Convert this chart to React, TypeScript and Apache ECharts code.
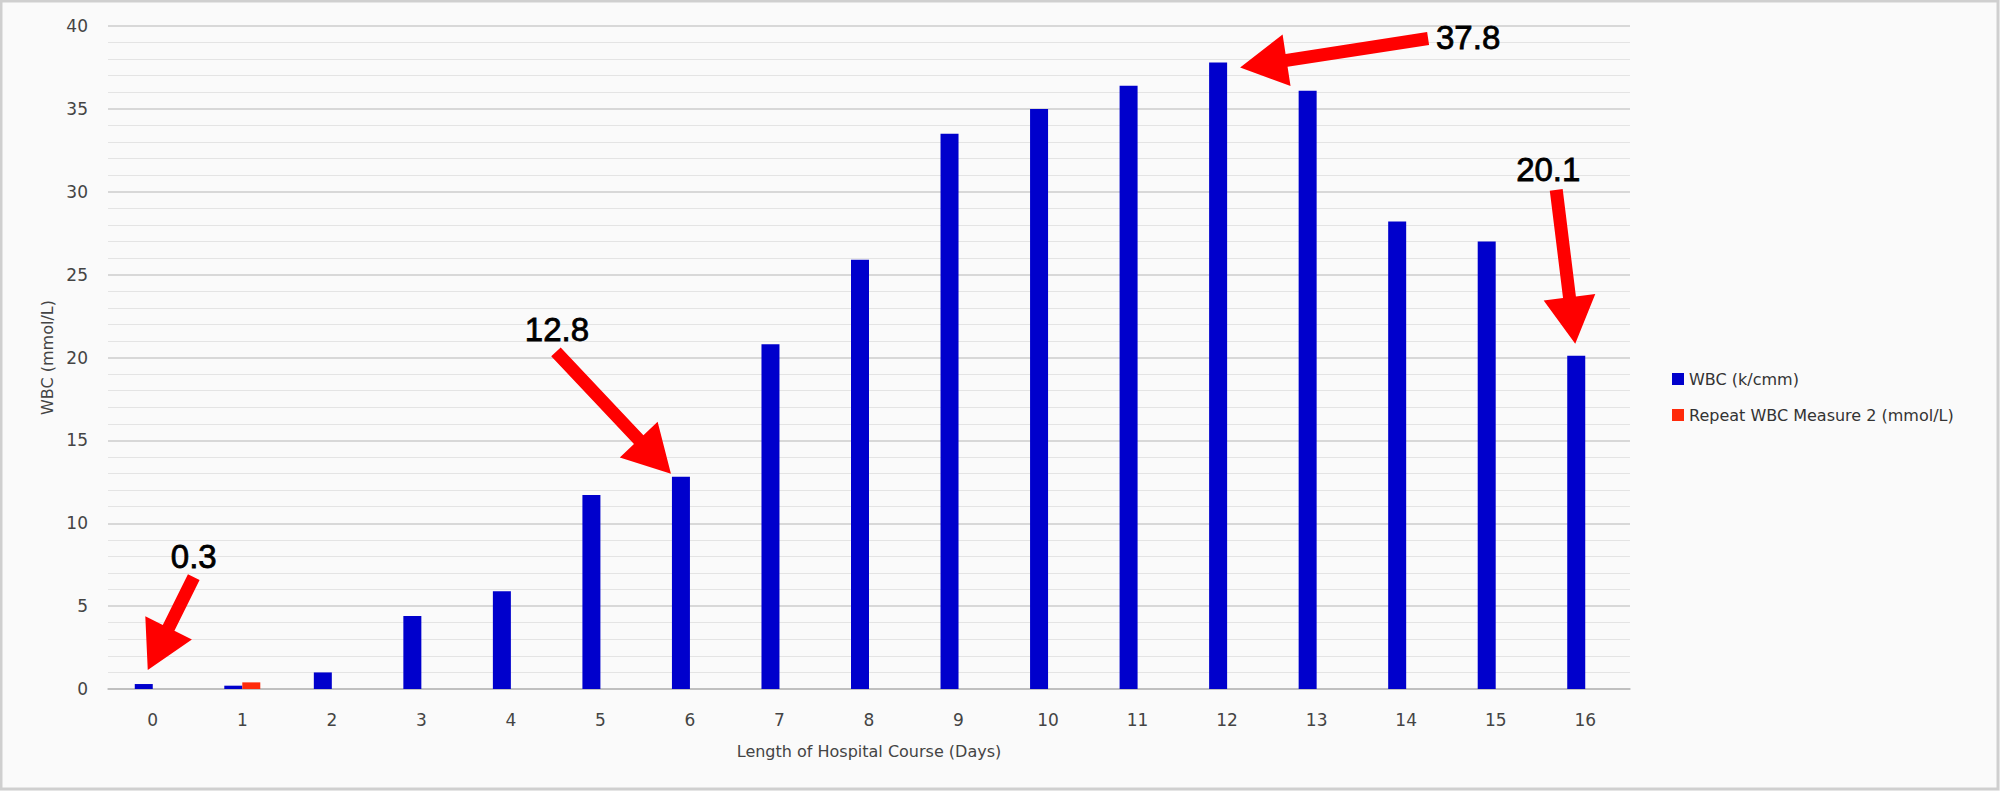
import React, { useEffect, useRef } from "react";
import * as echarts from "echarts";

const days = ["0", "1", "2", "3", "4", "5", "6", "7", "8", "9", "10", "11", "12", "13", "14", "15", "16"];
const wbc = [0.3, 0.2, 1.0, 4.4, 5.9, 11.7, 12.8, 20.8, 25.9, 33.5, 35.0, 36.4, 37.8, 36.1, 28.2, 27.0, 20.1];
const repeatWbc = [null, 0.4, null, null, null, null, null, null, null, null, null, null, null, null, null, null, null];
const seriesNames = ["WBC (k/cmm)", "Repeat WBC Measure 2 (mmol/L)"];
const xAxisTitle = "Length of Hospital Course (Days)";
const yAxisTitle = "WBC (mmol/L)";
const yTicks = { min: 0, max: 40, interval: 5 };

// annotated points (category index of the WBC series)
const annotatedDays = [0, 6, 12, 16];
// styling offsets relative to the top-centre of the annotated bar (pixels)
const arrowTipOffsets = [[4, -14], [-10, -3], [22, 5], [-1, -12]];
const arrowTailOffsets = [[50, -107], [-125, -125], [210, -24], [-20, -166]];
const labelOffsets = [[50, -128], [-124, -147], [250, -25], [-28, -186]];

const BAR_W = 18;
const FONT = "'DejaVu Sans', sans-serif";

function arrowPoints(tail: number[], tip: number[]) {
  const dx = tip[0] - tail[0];
  const dy = tip[1] - tail[1];
  const len = Math.sqrt(dx * dx + dy * dy);
  const ux = dx / len, uy = dy / len;
  const nx = -uy, ny = ux;
  const H = 47, W = 26, w = 6.5;
  const bx = tip[0] - ux * H, by = tip[1] - uy * H;
  return [
    [tail[0] + nx * w, tail[1] + ny * w],
    [bx + nx * w, by + ny * w],
    [bx + nx * W, by + ny * W],
    [tip[0], tip[1]],
    [bx - nx * W, by - ny * W],
    [bx - nx * w, by - ny * w],
    [tail[0] - nx * w, tail[1] - ny * w],
  ];
}

export default function App() {
  const ref = useRef<HTMLDivElement>(null);
  useEffect(() => {
    document.body.style.margin = "0";
    const chart = echarts.init(ref.current!, null, { renderer: "svg" });
    chart.setOption({
      animation: false,
      backgroundColor: "#fafafa",
      grid: { left: 108, right: 370, top: 26, bottom: 102, containLabel: false },
      legend: {
        orient: "vertical",
        left: 1667,
        top: 366,
        itemWidth: 12,
        itemHeight: 12,
        itemGap: 20,
        icon: "rect",
        textStyle: { fontFamily: FONT, fontSize: 16, color: "#333" },
        data: seriesNames,
      },
      xAxis: {
        type: "category",
        data: days,
        name: xAxisTitle,
        nameLocation: "middle",
        nameGap: 54,
        nameTextStyle: { fontFamily: FONT, fontSize: 16, color: "#444" },
        axisTick: { show: false },
        axisLine: { lineStyle: { color: "#b8b8b8", width: 1.5 } },
        axisLabel: { fontFamily: FONT, fontSize: 17, color: "#444", margin: 22 },
      },
      yAxis: {
        type: "value",
        min: yTicks.min,
        max: yTicks.max,
        interval: yTicks.interval,
        name: yAxisTitle,
        nameLocation: "middle",
        nameGap: 52,
        nameTextStyle: { fontFamily: FONT, fontSize: 16, color: "#444" },
        axisLine: { show: false },
        axisTick: { show: false },
        axisLabel: { fontFamily: FONT, fontSize: 17, color: "#444", margin: 20 },
        splitLine: { lineStyle: { color: "#cdcdcd", width: 1.5 } },
        minorTick: { show: false, splitNumber: 5 },
        minorSplitLine: { show: true, lineStyle: { color: "#e4e4e4", width: 1.2 } },
      },
      series: [
        {
          name: seriesNames[0],
          type: "bar",
          data: wbc,
          barWidth: BAR_W,
          barGap: "0%",
          itemStyle: { color: "#0000cc" },
        },
        {
          name: seriesNames[1],
          type: "bar",
          data: repeatWbc,
          barWidth: BAR_W,
          barGap: "0%",
          itemStyle: { color: "#ff2a0a" },
        },
      ],
    });

    const elements: any[] = [
      {
        type: "rect",
        shape: { x: 1, y: 1, width: 1997, height: 788 },
        style: { fill: "none", stroke: "#cfcfcf", lineWidth: 3 },
        silent: true,
      },
    ];
    annotatedDays.forEach((d, k) => {
      const p = chart.convertToPixel({ seriesIndex: 0 }, [d, wbc[d]]) as number[];
      const top = [p[0] - BAR_W / 2, p[1]];
      const tip = [top[0] + arrowTipOffsets[k][0], top[1] + arrowTipOffsets[k][1]];
      const tail = [top[0] + arrowTailOffsets[k][0], top[1] + arrowTailOffsets[k][1]];
      elements.push({
        type: "polygon",
        shape: { points: arrowPoints(tail, tip) },
        style: { fill: "#ff0000" },
        z: 100,
      });
      elements.push({
        type: "text",
        x: top[0] + labelOffsets[k][0],
        y: top[1] + labelOffsets[k][1],
        style: {
          text: String(wbc[d]),
          fontFamily: "'Liberation Sans', Arial, sans-serif",
          fontSize: 33,
          fill: "#000",
          stroke: "#000",
          lineWidth: 0.8,
          align: "center",
          verticalAlign: "middle",
        },
        z: 100,
      });
    });
    chart.setOption({ graphic: { elements } });

    return () => chart.dispose();
  }, []);
  return <div ref={ref} style={{ position: "absolute", left: 0, top: 0, width: 2000, height: 791 }} />;
}
